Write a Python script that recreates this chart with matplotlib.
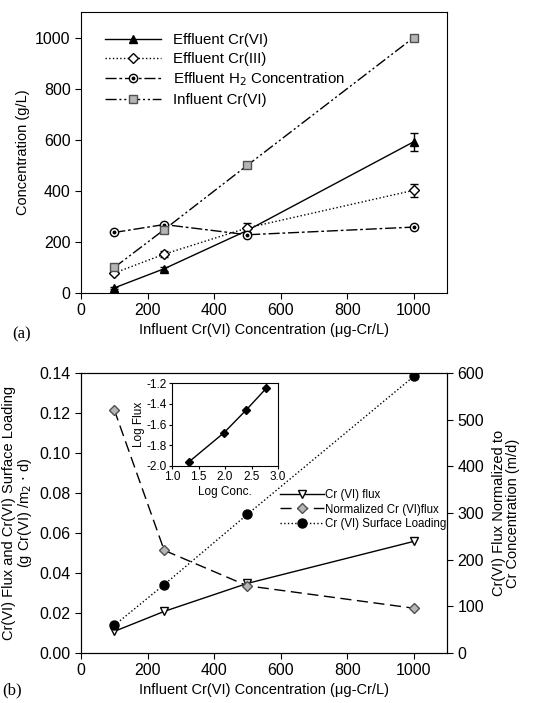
import matplotlib.pyplot as plt
import numpy as np

plt.rcParams['font.family'] = ['Liberation Sans', 'DejaVu Sans']
plt.rcParams['font.size'] = 10.5

# panel (a) data
conc = [100, 250, 500, 1000]
eff_cr6 = [20, 95, 245, 592]
eff_cr6_err = [5, 8, 10, 35]
eff_cr3 = [78, 152, 255, 402]
eff_cr3_err = [5, 12, 18, 25]
eff_h2 = [237, 268, 228, 258]
inf_cr6 = [100, 248, 500, 1000]

# panel (b) data
flux = [0.0108, 0.0208, 0.0348, 0.0558]
surf_load = [0.0138, 0.0342, 0.0693, 0.1383]
norm_flux = [521, 220, 144, 96]

# inset data
log_conc = [1.32, 1.98, 2.40, 2.78]
log_flux = [-1.96, -1.68, -1.46, -1.25]

fig = plt.figure(figsize=(5.58, 7.03), dpi=100)
W, H = 558, 703
ax1 = fig.add_axes([81/W, 1-293/H, 366/W, 281/H])
ax2 = fig.add_axes([81/W, 1-653/H, 366/W, 280/H])

# ---- panel (a)
ax1.errorbar(conc, eff_cr6, yerr=eff_cr6_err, fmt='none', ecolor='black', lw=1, capsize=3)
ax1.errorbar(conc, eff_cr3, yerr=eff_cr3_err, fmt='none', ecolor='black', lw=1, capsize=3)
l_cr6, = ax1.plot(conc, eff_cr6, color='black', lw=1, marker='^', ms=6, mfc='black')
l_cr3, = ax1.plot(conc, eff_cr3, color='black', lw=1, ls=':', marker='D', ms=5.5, mfc='white')
h2_line, = ax1.plot(conc, eff_h2, color='black', lw=1, ls=(0, (8, 2, 2, 2)), marker='o', ms=6,
                    mfc='white')
h2_dot, = ax1.plot(conc, eff_h2, color='black', ls='none', marker='o', ms=1.8)
l_inf, = ax1.plot(conc, inf_cr6, color='black', lw=1, ls=(0, (8, 2, 1.5, 2, 1.5, 2)), marker='s',
                  ms=6, mfc='#b5b5b5', mec='#505050')

ax1.legend([l_cr6, l_cr3, (h2_line, h2_dot), l_inf],
           ['Effluent Cr(VI)', 'Effluent Cr(III)', 'Effluent H$_2$ Concentration', 'Influent Cr(VI)'],
           loc='upper left', bbox_to_anchor=(0.066, 0.925), frameon=False,
           handlelength=3.7, labelspacing=0.32, handletextpad=0.85, fontsize=10.8,
           borderpad=0, borderaxespad=0)

ax1.set_xlim(0, 1100)
ax1.set_ylim(0, 1100)
ax1.set_xticks([0, 200, 400, 600, 800, 1000])
ax1.set_yticks([0, 200, 400, 600, 800, 1000])
ax1.set_xlabel('Influent Cr(VI) Concentration (\u03bcg-Cr/L)', labelpad=3)
ax1.set_ylabel('Concentration (g/L)')
fig.text(12/W, 1-334/H, '(a)', fontsize=12, family='Liberation Serif', va='center')

# ---- panel (b)
l1, = ax2.plot(conc, flux, color='black', lw=1, marker='v', ms=6, mfc='white')
ax2r = ax2.twinx()
l2, = ax2r.plot(conc, norm_flux, color='black', lw=1, ls=(0, (8, 4)), marker='D', ms=5.5,
                mfc='#b5b5b5', mec='#505050')
l3, = ax2.plot(conc, surf_load, color='black', lw=1, ls=':', marker='o', ms=6.5, mfc='black')

ax2r.legend([l1, l2, l3], ['Cr (VI) flux', 'Normalized Cr (VI)flux', 'Cr (VI) Surface Loading'],
            loc='upper left', bbox_to_anchor=(0.545, 0.585), frameon=False,
            handlelength=3.8, labelspacing=0.2, handletextpad=0.1, fontsize=8.3,
            borderaxespad=0, borderpad=0)

ax2.set_xlim(0, 1100)
ax2.set_ylim(0, 0.14)
ax2.set_xticks([0, 200, 400, 600, 800, 1000])
ax2.set_yticks(np.arange(0, 0.141, 0.02))
ax2.yaxis.set_major_formatter(plt.FormatStrFormatter('%.2f'))
ax2r.set_ylim(0, 600)
ax2r.set_yticks([0, 100, 200, 300, 400, 500, 600])
ax2.set_xlabel('Influent Cr(VI) Concentration (\u03bcg-Cr/L)', labelpad=3)
ax2.set_ylabel('Cr(VI) Flux and Cr(VI) Surface Loading\n(g Cr(VI) /m$_2$ $\\cdot$ d)',
               linespacing=1.0, labelpad=4)
ax2r.set_ylabel('Cr(VI) Flux Normalized to\nCr Concentration (m/d)', linespacing=1.0,
                labelpad=6)
fig.text(2/W, 1-690/H, '(b)', fontsize=12, family='Liberation Serif', va='center')

# inset
axi = fig.add_axes([172/W, 1-466/H, 106/W, 83/H])
axi.plot(log_conc, log_flux, color='black', lw=1, marker='D', ms=4.5, mfc='black')
axi.set_xlim(1.0, 3.0)
axi.set_ylim(-2.0, -1.2)
axi.set_xticks([1.0, 1.5, 2.0, 2.5, 3.0])
axi.set_yticks([-2.0, -1.8, -1.6, -1.4, -1.2])
axi.xaxis.set_major_formatter(plt.FormatStrFormatter('%.1f'))
axi.yaxis.set_major_formatter(plt.FormatStrFormatter('%.1f'))
axi.tick_params(labelsize=8.5, length=2, pad=1.5)
axi.set_xlabel('Log Conc.', fontsize=8.5, labelpad=2)
axi.set_ylabel('Log Flux', fontsize=8.5, labelpad=1)

for a in [ax1, ax2, ax2r]:
    a.tick_params(direction='out', length=4, labelsize=11.5)

fig.savefig('out.png', dpi=100)
